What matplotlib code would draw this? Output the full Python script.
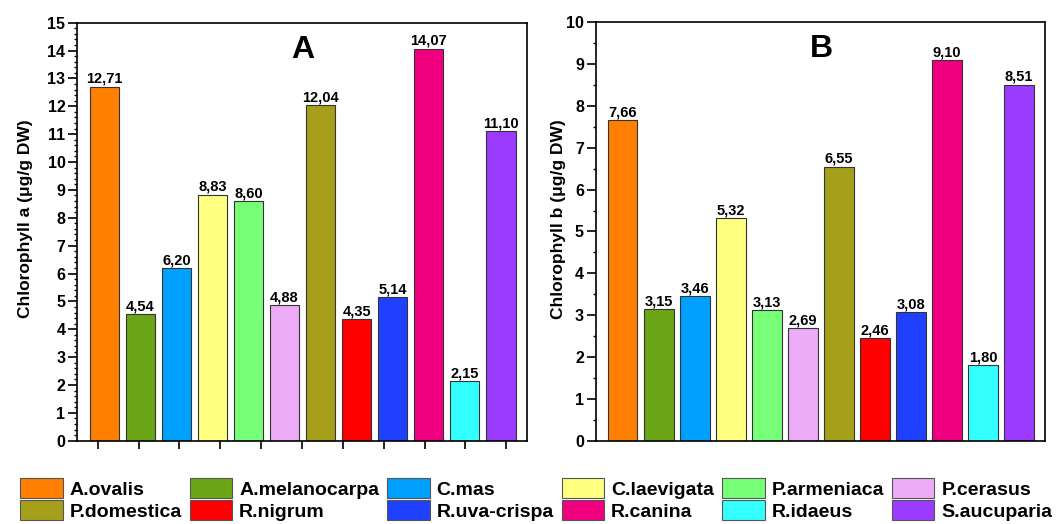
import matplotlib
matplotlib.use("Agg")
import matplotlib.pyplot as plt
from matplotlib.patches import Patch
from matplotlib.ticker import MultipleLocator, FixedLocator, NullLocator
import numpy as np

species = ["A.ovalis", "A.melanocarpa", "C.mas", "C.laevigata", "P.armeniaca", "P.cerasus",
           "P.domestica", "R.nigrum", "R.uva-crispa", "R.canina", "R.idaeus", "S.aucuparia"]
chl_a = [12.71, 4.54, 6.20, 8.83, 8.60, 4.88, 12.04, 4.35, 5.14, 14.07, 2.15, 11.10]
chl_b = [7.66, 3.15, 3.46, 5.32, 3.13, 2.69, 6.55, 2.46, 3.08, 9.10, 1.80, 8.51]
colors = ["#FF8000", "#6BA617", "#00A0FF", "#FFFF80", "#78FF78", "#EBABF7",
          "#A59F1A", "#FF0000", "#2040FF", "#F0007F", "#33FFFF", "#9A3BFF"]

plt.rcParams['font.family'] = ['Liberation Sans', 'DejaVu Sans']
plt.rcParams['font.weight'] = 'bold'

W, H = 1058, 524
fig = plt.figure(figsize=(W / 100, H / 100), dpi=100)

def px_axes(l, t, r, b):
    return fig.add_axes([l / W, 1 - b / H, (r - l) / W, (b - t) / H])

axA = px_axes(77.3, 22.7, 526.7, 440.7)
axB = px_axes(595.7, 22.2, 1045.0, 440.7)

x = np.arange(len(species))
XL = (-0.75, 11.72)

def draw(ax, vals, ymax, minor, ylabel, letter, xticks, labx):
    ax.bar(x, vals, width=0.82, color=colors, edgecolor="#333333", linewidth=0.8, zorder=2)
    for xi, v in zip(x, vals):
        ax.annotate(f"{v:.2f}".replace('.', ','), (xi, v), xytext=(0, 0.5),
                    textcoords="offset points", ha='center', va='bottom',
                    fontsize=10.5, fontweight='bold')
    ax.set_xlim(*XL)
    ax.set_ylim(0, ymax)
    ax.yaxis.set_major_locator(MultipleLocator(1))
    ax.yaxis.set_minor_locator(MultipleLocator(minor))
    if xticks:
        span = XL[1] - XL[0]
        ax.xaxis.set_major_locator(FixedLocator([XL[0] + (k + 0.5) * span / 11 for k in range(11)]))
    else:
        ax.xaxis.set_major_locator(NullLocator())
    ax.set_xticklabels([])
    ax.tick_params(axis='y', which='major', direction='out', length=6.5, width=1.2,
                   labelsize=11.5, pad=2)
    ax.tick_params(axis='y', which='minor', direction='out', length=2.5, width=1.0)
    ax.tick_params(axis='x', which='major', direction='out', length=6, width=1.2)
    for lab in ax.get_yticklabels():
        lab.set_fontweight('bold')
    for s in ax.spines.values():
        s.set_linewidth(1.2)
    ax.set_ylabel(ylabel, fontsize=12.5, fontweight='bold')
    ax.yaxis.set_label_coords(labx, 0.53)
    ax.text(0.502, 0.935, letter, transform=ax.transAxes, ha='center', va='center',
            fontsize=23, fontweight='bold')

draw(axA, chl_a, 15, 0.2, "Chlorophyll a (\u03bcg/g DW)", "A", True, -0.099)
draw(axB, chl_b, 10, 0.5, "Chlorophyll b (\u03bcg/g DW)", "B", False, -0.065)

handles = [Patch(facecolor=c, edgecolor="#555555", linewidth=0.8) for c in colors]
order = []
for j in range(6):
    order += [j, j + 6]
fig.legend([handles[i] for i in order], [species[i] for i in order],
           ncol=6, loc='upper left', bbox_to_anchor=(20 / W, 1 - 478 / H),
           frameon=False, handlelength=2.2, handleheight=1.2,
           handletextpad=0.35, columnspacing=0.4, labelspacing=0.08, borderpad=0,
           borderaxespad=0, prop={'weight': 'bold', 'size': 14})

fig.savefig("out.png", dpi=100)
